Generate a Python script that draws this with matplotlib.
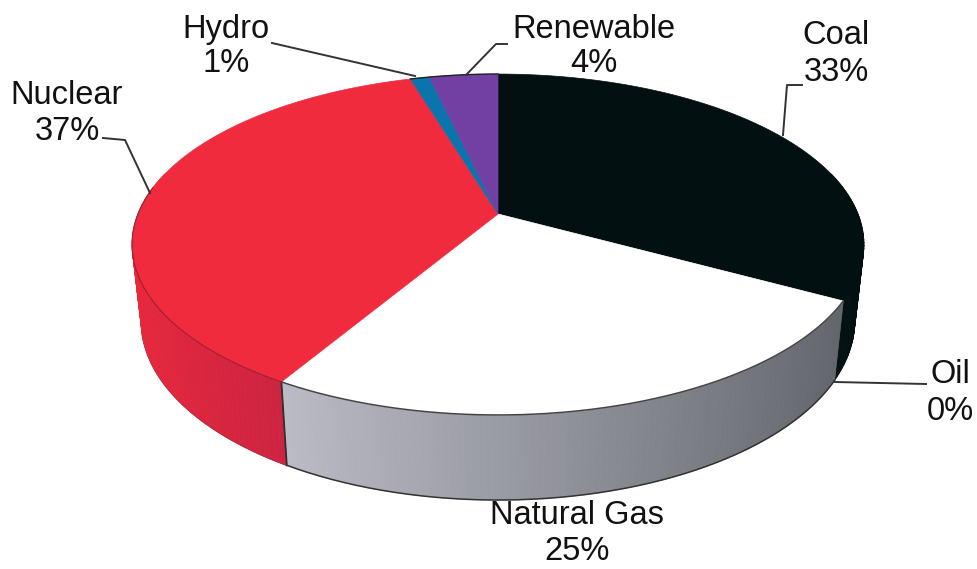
import numpy as np
import matplotlib
matplotlib.use("Agg")
import matplotlib.pyplot as plt
from matplotlib.colors import to_rgb

categories = ["Coal", "Oil", "Natural Gas", "Nuclear", "Hydro", "Renewable"]
values = [33.0, 0.0, 25.5, 36.9, 1.0, 3.6]
percent_labels = ["33%", "0%", "25%", "37%", "1%", "4%"]
top_colors = ["#031012", "#7a3030", "#ffffff", "#f02b3e", "#0c74ac", "#7140a2"]

plt.rcParams['font.family'] = ['Liberation Sans', 'DejaVu Sans']
fig = plt.figure(figsize=(9.78, 5.69), dpi=100)
ax = fig.add_axes([0, 0, 1, 1])
ax.set_xlim(0, 978); ax.set_ylim(569, 0); ax.axis("off")

CX, CY, RX, RY, K = 498, 214, 360, 165, 0.179
SX, SY, CY2 = 0.975, 1.05, 289

def top(t):
    u, v = np.sin(t), np.cos(t)
    d = 1 + K * v
    return CX + RX * u / d, CY - RY * v / d

def bottom(t):
    u, v = np.sin(t), np.cos(t)
    d = 1 + K * v
    return CX + SX * RX * u / d, CY2 - SY * RY * v / d

def side_color(name, t):
    f = (np.sin(t) + 1) / 2  # 0 left, 1 right
    if name == "Natural Gas":
        a, b = np.array(to_rgb("#dadae4")), np.array(to_rgb("#5a5d63"))
        return a + (b - a) * f
    if name == "Nuclear":
        a, b = np.array(to_rgb("#ea283c")), np.array(to_rgb("#cc2442"))
        return a + (b - a) * min(1, f / 0.25)
    if name == "Coal":
        return np.array(to_rgb("#031012"))
    return np.array(to_rgb("#555555"))

edges = np.radians(np.concatenate([[0], np.cumsum(values)]) / sum(values) * 360)

# side walls
for i, name in enumerate(categories):
    a, b = edges[i], edges[i + 1]
    if b <= a:
        continue
    ts = np.linspace(a, b, max(2, int((b - a) * 60)))
    for t0, t1 in zip(ts[:-1], ts[1:]):
        if np.cos((t0 + t1) / 2) > 0.25:
            continue
        x0, y0 = top(t0); x1, y1 = top(t1)
        x2, y2 = bottom(t1); x3, y3 = bottom(t0)
        c = side_color(name, (t0 + t1) / 2)
        ax.fill([x0, x1, x2, x3], [y0, y1, y2, y3], color=c, lw=0.6, zorder=2)

# top faces
for i, name in enumerate(categories):
    a, b = edges[i], edges[i + 1]
    if b <= a:
        continue
    ts = np.linspace(a, b, 200)
    xs, ys = top(ts)
    ax.fill(np.r_[CX, xs], np.r_[CY, ys], facecolor=top_colors[i],
            edgecolor=top_colors[i], lw=0.5, zorder=3)

# seams and outlines
x0, y0 = top(edges[3]); x1, y1 = bottom(edges[3])
ax.plot([x0, x1], [y0, y1], color="#303030", lw=1.3, zorder=4)
ax.plot(*top(np.linspace(edges[2], edges[3], 200)), color="#444444", lw=1.1, zorder=4)
ax.plot(*top(np.linspace(edges[3], edges[3] + 1.2, 100)), color="#a02030", lw=0.8, zorder=4)
ax.plot(*top(np.linspace(edges[4], 2 * np.pi, 60)), color="#222222", lw=1.0, zorder=4)
ax.plot(*bottom(np.linspace(edges[2], edges[3], 200)), color="#333333", lw=1.1, zorder=4)
ax.plot(*bottom(np.linspace(edges[3], edges[3] + 1.25, 100)), color="#702030", lw=1.0, zorder=1)

# labels
FS = 23.5
label_pos = {"Coal": (836, 35, 72), "Oil": (950, 374, 411), "Natural Gas": (577, 516, 551),
             "Nuclear": (67, 95, 131), "Hydro": (226, 29, 63), "Renewable": (594, 29, 63)}
for name, pct in zip(categories, percent_labels):
    x, y1, y2 = label_pos[name]
    ax.text(x, y1, name, ha="center", va="center", fontsize=FS, color="#111111", zorder=6)
    ax.text(x, y2, pct, ha="center", va="center", fontsize=FS, color="#111111", zorder=6)

leaders = {"Coal": ([802, 787, 783], [85, 85, 135]),
           "Oil": ([926, 835], [384, 382]),
           "Nuclear": ([103, 125, 150], [138, 140, 193]),
           "Hydro": ([272, 415], [43, 76]),
           "Renewable": ([507, 496, 466], [44, 44, 75])}
for xs, ys in leaders.values():
    ax.plot(xs, ys, color="#333333", lw=1.4, zorder=5)

fig.savefig("out.png", dpi=100)
